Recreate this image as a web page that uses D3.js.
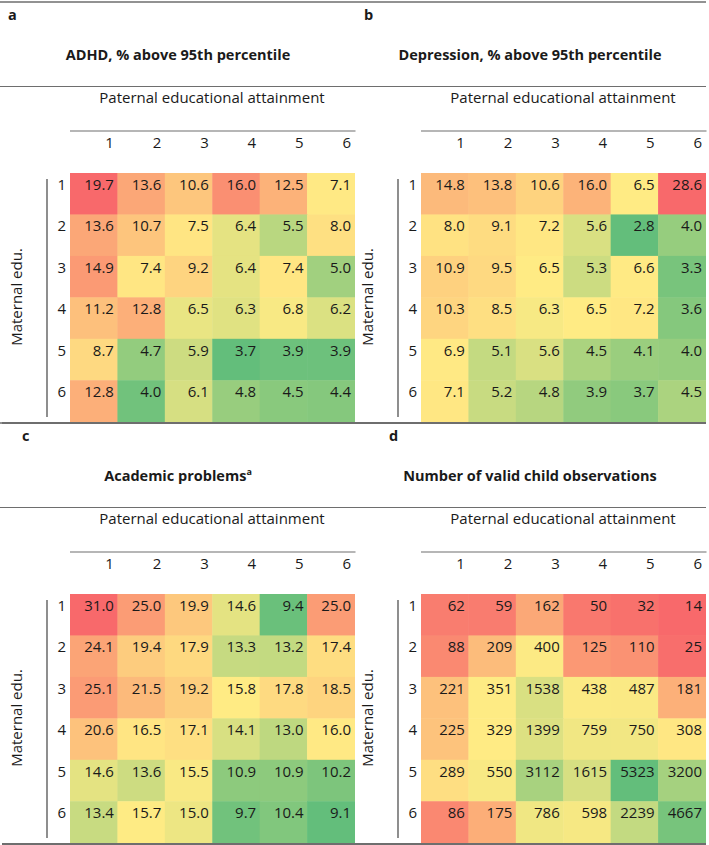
<!DOCTYPE html>
<html>
<head>
<meta charset="utf-8">
<script src="https://cdn.jsdelivr.net/npm/d3@7"></script>
<style>
  html, body { margin: 0; padding: 0; background: #fff; }
  svg { display: block; font-family: "Open Sans", sans-serif; }
</style>
</head>
<body>
<svg id="chart" width="709" height="845"></svg>
<script>
// ---- Data ----
const paternalLevels = ["1", "2", "3", "4", "5", "6"];
const maternalLevels = ["1", "2", "3", "4", "5", "6"];

const panelLetters = ["a", "b", "c", "d"];
const panelTitles = [
  "ADHD, % above 95th percentile",
  "Depression, % above 95th percentile",
  "Academic problems",
  "Number of valid child observations"
];
const titleSuperscripts = ["", "", "a", ""];
const colAxisTitle = "Paternal educational attainment";
const rowAxisTitle = "Maternal edu.";

// rows = maternal education 1..6, columns = paternal education 1..6
const adhd = [
  [19.7, 13.6, 10.6, 16.0, 12.5, 7.1],
  [13.6, 10.7, 7.5, 6.4, 5.5, 8.0],
  [14.9, 7.4, 9.2, 6.4, 7.4, 5.0],
  [11.2, 12.8, 6.5, 6.3, 6.8, 6.2],
  [8.7, 4.7, 5.9, 3.7, 3.9, 3.9],
  [12.8, 4.0, 6.1, 4.8, 4.5, 4.4]
];
const depression = [
  [14.8, 13.8, 10.6, 16.0, 6.5, 28.6],
  [8.0, 9.1, 7.2, 5.6, 2.8, 4.0],
  [10.9, 9.5, 6.5, 5.3, 6.6, 3.3],
  [10.3, 8.5, 6.3, 6.5, 7.2, 3.6],
  [6.9, 5.1, 5.6, 4.5, 4.1, 4.0],
  [7.1, 5.2, 4.8, 3.9, 3.7, 4.5]
];
const academic = [
  [31.0, 25.0, 19.9, 14.6, 9.4, 25.0],
  [24.1, 19.4, 17.9, 13.3, 13.2, 17.4],
  [25.1, 21.5, 19.2, 15.8, 17.8, 18.5],
  [20.6, 16.5, 17.1, 14.1, 13.0, 16.0],
  [14.6, 13.6, 15.5, 10.9, 10.9, 10.2],
  [13.4, 15.7, 15.0, 9.7, 10.4, 9.1]
];
const observations = [
  [62, 59, 162, 50, 32, 14],
  [88, 209, 400, 125, 110, 25],
  [221, 351, 1538, 438, 487, 181],
  [225, 329, 1399, 759, 750, 308],
  [289, 550, 3112, 1615, 5323, 3200],
  [86, 175, 786, 598, 2239, 4667]
];
const panelData = [adhd, depression, academic, observations];
const highIsBad = [true, true, true, false];
const valueFormats = [".1f", ".1f", ".1f", "d"];

// ---- Layout ----
const W = 709, H = 845;
const svg = d3.select("#chart");
const panelDX = [0, 351, 0, 351];
const panelDY = [0, 0, 421, 421];
const letterX = [8, 364, 22, 389];
const titleCX = [178, 530, 178, 530];
const headCX = [212, 563, 212, 563];

const cellX0 = 70, cellW = 284.5;
const cellY0 = 173, cellH = 248.7;
const textColor = "#1a1a1a";
const lineColor = "#6e6e6e";

// Horizontal rules across full width
[0, 421].forEach(dy => {
  svg.append("line").attr("x1", 0).attr("x2", 706).attr("y1", 2 + dy).attr("y2", 2 + dy)
    .attr("stroke", lineColor).attr("stroke-width", 1.5);
  svg.append("line").attr("x1", 0).attr("x2", 706).attr("y1", 86.5 + dy).attr("y2", 86.5 + dy)
    .attr("stroke", lineColor).attr("stroke-width", 1.2);
});

panelData.forEach((data, p) => {
  const dx = panelDX[p], dy = panelDY[p];
  const g = svg.append("g");

  const x = d3.scaleBand().domain(paternalLevels).range([cellX0 + dx, cellX0 + dx + cellW]);
  const y = d3.scaleBand().domain(maternalLevels).range([cellY0 + dy, cellY0 + dy + cellH]);

  const flat = data.flat();
  const lo = d3.min(flat), hi = d3.max(flat), mid = d3.median(flat);
  const red = "#f8696b", yellow = "#ffeb84", green = "#63be7b";
  const color = d3.scaleLinear().domain([lo, mid, hi])
    .range(highIsBad[p] ? [green, yellow, red] : [red, yellow, green])
    .interpolate(d3.interpolateRgb);
  const fmt = d3.format(valueFormats[p]);

  // panel letter
  g.append("text").attr("x", letterX[p]).attr("y", 20 + dy)
    .attr("font-weight", "bold").attr("font-size", 14.5).attr("fill", textColor)
    .text(panelLetters[p]);

  // title
  const t = g.append("text").attr("x", titleCX[p]).attr("y", 60 + dy)
    .attr("text-anchor", "middle").attr("font-weight", "bold").attr("font-size", 14.5)
    .attr("fill", textColor).text(panelTitles[p]);
  if (titleSuperscripts[p]) {
    t.append("tspan").attr("font-size", 9).attr("dy", -6).text(titleSuperscripts[p]);
  }

  // column axis title
  g.append("text").attr("x", headCX[p]).attr("y", 103 + dy)
    .attr("text-anchor", "middle").attr("font-size", 15).attr("fill", textColor)
    .text(colAxisTitle);

  // rule above column numbers
  g.append("line").attr("x1", cellX0 + dx).attr("x2", cellX0 + dx + cellW + 1)
    .attr("y1", 131 + dy).attr("y2", 131 + dy)
    .attr("stroke", lineColor).attr("stroke-width", 1.2);

  // column numbers (axis without domain/ticks)
  const topAxis = d3.axisTop(x).tickSize(0).tickPadding(0);
  const ax = g.append("g").attr("transform", `translate(0,${148 + dy})`).call(topAxis);
  ax.select(".domain").remove();
  ax.selectAll("text")
    .attr("x", x.bandwidth() / 2 - 3.5).attr("dy", 0)
    .attr("text-anchor", "end").attr("font-size", 15).attr("fill", textColor)
    .attr("font-family", "Open Sans, sans-serif");

  // cells
  const cells = [];
  data.forEach((row, i) => row.forEach((v, j) => cells.push({ r: maternalLevels[i], c: paternalLevels[j], v })));
  g.selectAll("rect.cell").data(cells).join("rect").attr("class", "cell")
    .attr("x", d => x(d.c)).attr("y", d => y(d.r))
    .attr("width", x.bandwidth() + 0.5).attr("height", y.bandwidth() + 0.5)
    .attr("fill", d => color(d.v));
  g.selectAll("text.val").data(cells).join("text").attr("class", "val")
    .attr("x", d => x(d.c) + x.bandwidth() - 3.5)
    .attr("y", d => y(d.r) + 17)
    .attr("text-anchor", "end").attr("font-size", 15).attr("fill", textColor)
    .text(d => fmt(d.v));

  // row labels
  g.selectAll("text.rowlab").data(maternalLevels).join("text").attr("class", "rowlab")
    .attr("x", cellX0 + dx - 4).attr("y", d => y(d) + 17)
    .attr("text-anchor", "end").attr("font-size", 15).attr("fill", textColor)
    .text(d => d);

  // vertical rule
  g.append("line").attr("x1", 47 + dx).attr("x2", 47 + dx)
    .attr("y1", 179 + dy).attr("y2", 417 + dy)
    .attr("stroke", "#444").attr("stroke-width", 1.2);

  // row axis title
  g.append("text")
    .attr("transform", `translate(${22 + dx},${297 + dy}) rotate(-90)`)
    .attr("text-anchor", "middle").attr("font-size", 15).attr("fill", textColor)
    .text(rowAxisTitle);
});

// bottom rules
[423, 844].forEach(yy => {
  svg.append("line").attr("x1", 2).attr("x2", 706).attr("y1", yy).attr("y2", yy)
    .attr("stroke", lineColor).attr("stroke-width", 1.8);
});
</script>
</body>
</html>
